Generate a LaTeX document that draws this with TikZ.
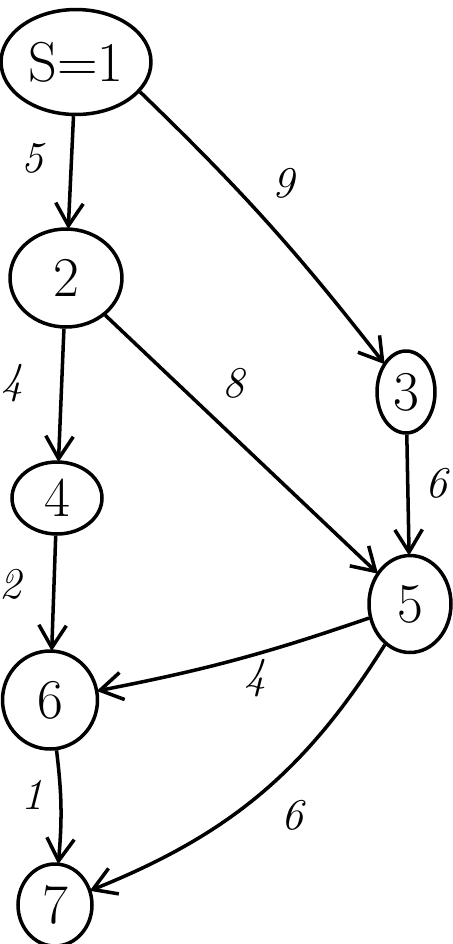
\documentclass[tikz,border=0pt]{standalone}
\usepackage{tikz}
\usetikzlibrary{arrows.meta, shapes.geometric}

\tikzset{
  vertex/.style={draw, ellipse, line width=2pt, inner sep=0pt, font=\fontsize{32}{34}\selectfont},
  link/.style={draw, line width=2pt, -{Straight Barb[length=4.5mm, width=5.5mm, line width=2pt]}, shorten >=-1pt},
  weight/.style={font=\fontsize{25}{27}\selectfont\itshape}
}

\begin{document}
\begin{tikzpicture}[x=0.02cm, y=-0.02cm]
  \useasboundingbox (0,0) rectangle (453,944);
  \clip (0,0) rectangle (453,944);
  % vertices
  \node[vertex, minimum width=3cm, minimum height=2.1cm] (s) at (76,62) {S=1};
  \node[vertex, minimum width=2.24cm, minimum height=1.96cm] (n2) at (66,278) {2};
  \node[vertex, minimum width=1.16cm, minimum height=1.64cm] (n3) at (406,392) {3};
  \node[vertex, minimum width=1.8cm, minimum height=1.44cm] (n4) at (57,498) {4};
  \node[vertex, minimum width=1.64cm, minimum height=1.94cm] (n5) at (410,604) {5};
  \node[vertex, minimum width=1.9cm, minimum height=1.96cm] (n6) at (50,700) {6};
  \node[vertex, minimum width=1.48cm, minimum height=1.64cm] (n7) at (55,905) {7};
  % edges
  \draw[link] (s.-25) to[bend left=4] (n3);
  \draw[link] (s) -- (n2);
  \draw[link] (n2) -- (n4);
  \draw[link] (n2) -- (n5);
  \draw[link] (n3) -- (n5);
  \draw[link] (n4) -- (n6);
  \draw[link] (n5) to[bend left=4] (n6);
  \draw[link] (n5) to[bend left=18] (n7);
  \draw[link] (n6) to[bend left=6] (n7);
  % weights
  \node[weight] (w5) at (32,158) {5};
  \node[weight] (w9) at (283,183) {9};
  \node[weight] (w4a) at (12,383) {4};
  \node[weight] (w8) at (233,383) {8};
  \node[weight] (w6a) at (436,483) {6};
  \node[weight] (w2) at (10,584) {2};
  \node[weight] (w4b) at (255,678) {4};
  \node[weight] (w6b) at (292,815) {6};
  \node[weight] (w1) at (32,795) {1};
\end{tikzpicture}
\end{document}
